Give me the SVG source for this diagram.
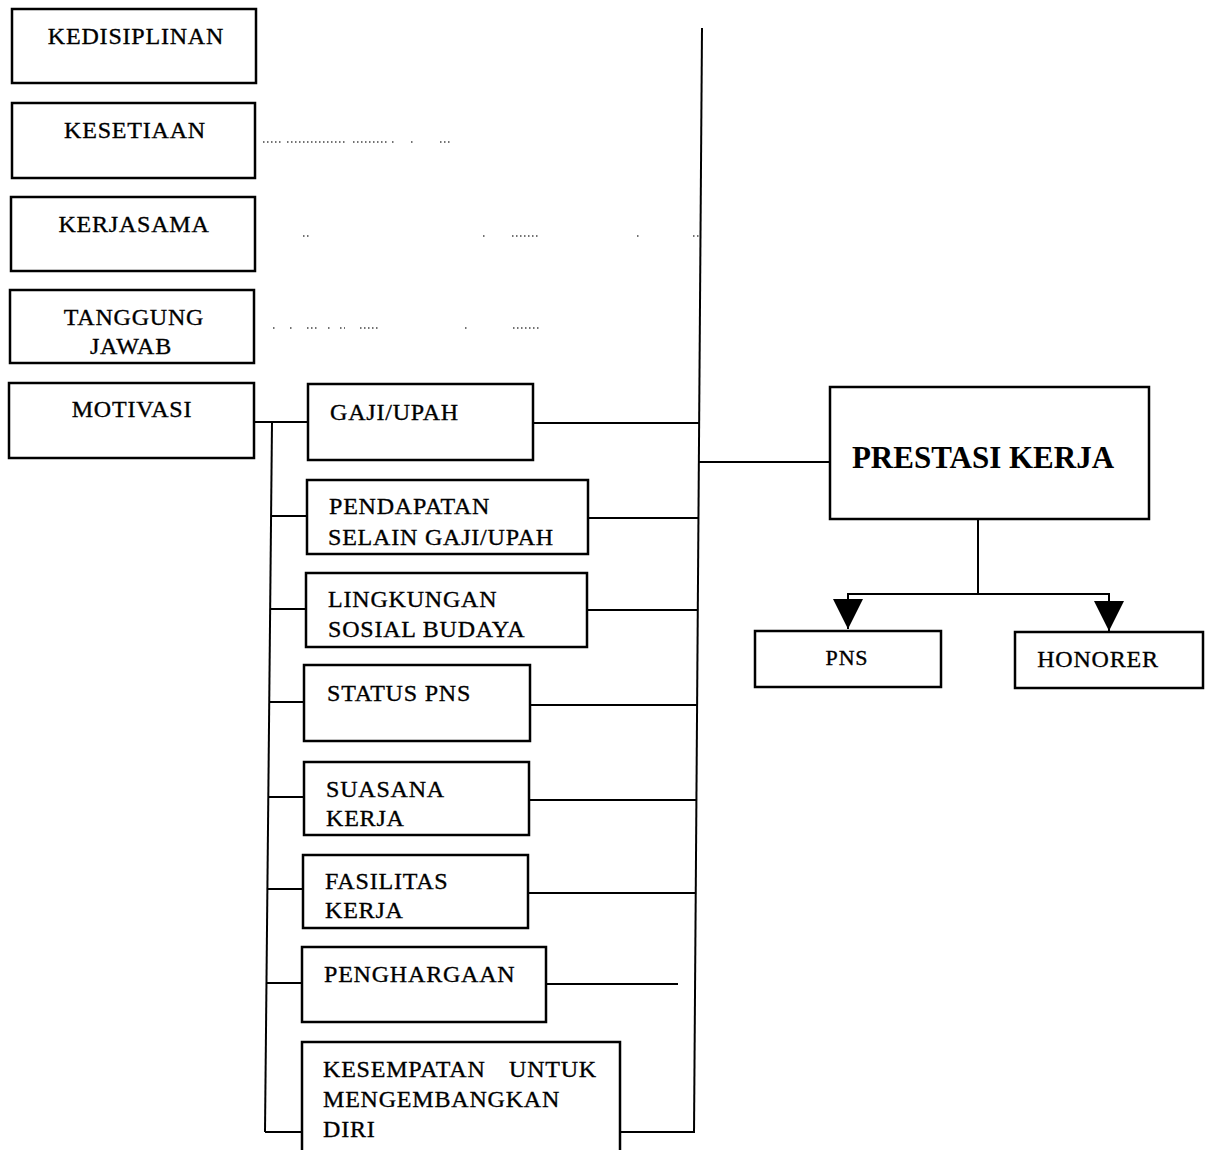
<svg xmlns="http://www.w3.org/2000/svg" width="1210" height="1150" viewBox="0 0 1210 1150">
  <style>
    .box { fill: #ffffff; stroke: #000000; stroke-width: 2.5; }
    .lbl { font-family: "Liberation Serif", "Times New Roman", serif; font-size: 24px; letter-spacing: 0.8px; fill: #000000; stroke: #000000; stroke-width: 0.35; }
    .mid { text-anchor: middle; }
    .big { font-family: "Liberation Serif", "Times New Roman", serif; font-size: 31px; font-weight: bold; fill: #000000; text-anchor: middle; }
    .wire { fill: none; stroke: #000000; stroke-width: 2; }
    .dots { fill: none; stroke: #444444; stroke-width: 1.3; stroke-dasharray: 1.5 2.5; }
  </style>
  <defs>
    <marker id="head" markerUnits="userSpaceOnUse" markerWidth="30" markerHeight="30" viewBox="0 0 30 30" refX="30" refY="15" orient="auto">
      <path d="M0,0 L30,15 L0,30 Z" fill="#000000"/>
    </marker>
  </defs>

  <rect width="1210" height="1150" fill="#ffffff"/>

  <!-- connectors -->
  <g id="connectors">
    <!-- main collecting line and link to PRESTASI KERJA -->
    <path class="wire" d="M702,28 L694,1133"/>
    <path class="wire" d="M699,462 H832"/>
    <!-- MOTIVASI bus -->
    <path class="wire" d="M254,422 H308"/>
    <path class="wire" d="M272,422 L265,1132"/>
    <path class="wire" d="M271,516 H307"/>
    <path class="wire" d="M270,609 H306"/>
    <path class="wire" d="M269,702 H304"/>
    <path class="wire" d="M268,797 H304"/>
    <path class="wire" d="M267,889 H303"/>
    <path class="wire" d="M266,983 H302"/>
    <path class="wire" d="M265,1132 H302"/>
    <!-- factor outputs to main line -->
    <path class="wire" d="M533,423 H699"/>
    <path class="wire" d="M588,518 H698"/>
    <path class="wire" d="M587,610 H698"/>
    <path class="wire" d="M530,705 H697"/>
    <path class="wire" d="M529,800 H696"/>
    <path class="wire" d="M528,893 H696"/>
    <path class="wire" d="M546,984 H678"/>
    <path class="wire" d="M620,1132 H694"/>
    <!-- faint dotted leaders -->
    <path class="dots" d="M263,142 H282 M287,142 H347 M353,142 H388 M392,142 H394 M411,142 H413 M440,142 H452"/>
    <path class="dots" d="M303,236 H310 M483,236 H485 M512,236 H538 M637,236 H639 M693,236 H700"/>
    <path class="dots" d="M273,328 H277 M290,328 H292 M307,328 H317 M328,328 H330 M340,328 H345 M360,328 H378 M465,328 H467 M513,328 H540"/>
    <!-- PRESTASI KERJA split -->
    <path class="wire" d="M978,520 V594"/>
    <path class="wire" d="M847,594 H1110"/>
    <path class="wire" d="M848,594 V629" marker-end="url(#head)"/>
    <path class="wire" d="M1109,594 V631" marker-end="url(#head)"/>
  </g>

  <!-- left column -->
  <g id="kedisiplinan">
    <rect class="box" x="12" y="9" width="244" height="74"/>
    <text class="lbl mid" x="136" y="44">KEDISIPLINAN</text>
  </g>
  <g id="kesetiaan">
    <rect class="box" x="12" y="103" width="243" height="75"/>
    <text class="lbl mid" x="135" y="138">KESETIAAN</text>
  </g>
  <g id="kerjasama">
    <rect class="box" x="11" y="197" width="244" height="74"/>
    <text class="lbl mid" x="134" y="232">KERJASAMA</text>
  </g>
  <g id="tanggung-jawab">
    <rect class="box" x="10" y="290" width="244" height="73"/>
    <text class="lbl mid" x="134" y="325">TANGGUNG</text>
    <text class="lbl mid" x="131" y="354">JAWAB</text>
  </g>
  <g id="motivasi">
    <rect class="box" x="9" y="383" width="245" height="75"/>
    <text class="lbl mid" x="132" y="417">MOTIVASI</text>
  </g>

  <!-- motivation factors -->
  <g id="gaji-upah">
    <rect class="box" x="308" y="384" width="225" height="76"/>
    <text class="lbl" x="330" y="420">GAJI/UPAH</text>
  </g>
  <g id="pendapatan">
    <rect class="box" x="307" y="480" width="281" height="74"/>
    <text class="lbl" x="329" y="514">PENDAPATAN</text>
    <text class="lbl" x="328" y="545">SELAIN GAJI/UPAH</text>
  </g>
  <g id="lingkungan">
    <rect class="box" x="306" y="573" width="281" height="74"/>
    <text class="lbl" x="328" y="607">LINGKUNGAN</text>
    <text class="lbl" x="328" y="637">SOSIAL BUDAYA</text>
  </g>
  <g id="status-pns">
    <rect class="box" x="304" y="665" width="226" height="76"/>
    <text class="lbl" x="327" y="701">STATUS PNS</text>
  </g>
  <g id="suasana-kerja">
    <rect class="box" x="304" y="762" width="225" height="73"/>
    <text class="lbl" x="326" y="797">SUASANA</text>
    <text class="lbl" x="326" y="826">KERJA</text>
  </g>
  <g id="fasilitas-kerja">
    <rect class="box" x="303" y="855" width="225" height="73"/>
    <text class="lbl" x="325" y="889">FASILITAS</text>
    <text class="lbl" x="325" y="918">KERJA</text>
  </g>
  <g id="penghargaan">
    <rect class="box" x="302" y="947" width="244" height="75"/>
    <text class="lbl" x="324" y="982">PENGHARGAAN</text>
  </g>
  <g id="kesempatan">
    <rect class="box" x="302" y="1042" width="318" height="130"/>
    <text class="lbl" x="323" y="1077">KESEMPATAN <tspan x="509">UNTUK</tspan></text>
    <text class="lbl" x="323" y="1107">MENGEMBANGKAN</text>
    <text class="lbl" x="323" y="1137">DIRI</text>
  </g>

  <!-- outcome -->
  <g id="prestasi-kerja">
    <rect class="box" x="830" y="387" width="319" height="132"/>
    <text class="big" x="983" y="468">PRESTASI KERJA</text>
  </g>
  <g id="pns">
    <rect class="box" x="755" y="631" width="186" height="56"/>
    <text class="lbl mid" x="847" y="665" style="font-size:22px">PNS</text>
  </g>
  <g id="honorer">
    <rect class="box" x="1015" y="632" width="188" height="56"/>
    <text class="lbl mid" x="1098" y="667">HONORER</text>
  </g>
</svg>
